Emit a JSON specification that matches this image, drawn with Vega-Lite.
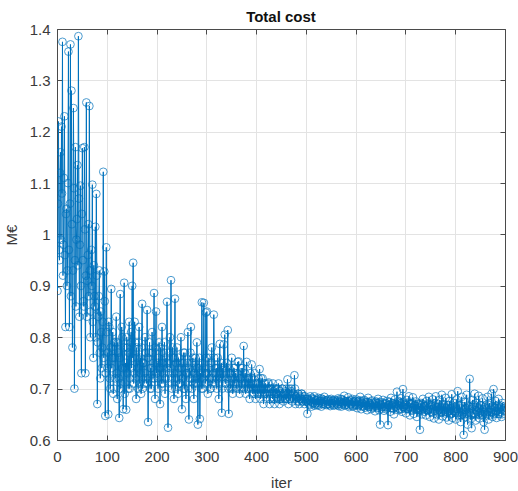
{
"$schema": "https://vega.github.io/schema/vega-lite/v6.json",
"width": 448, "height": 411,
"autosize": "none",
"padding": {"left": 57, "top": 29, "right": 13, "bottom": 51},
"background": "white",
"config": {
  "font": "Liberation Sans",
  "view": {"stroke": "#4a4a4a", "strokeWidth": 1},
  "axis": {"domainColor": "#4a4a4a", "tickColor": "#4a4a4a", "labelColor": "#3a3a3a", "titleColor": "#3a3a3a", "labelFontSize": 15, "titleFontSize": 15, "titleFontWeight": "normal", "gridColor": "#e3e3e3", "gridWidth": 1, "labelFlush": false, "labelOverlap": false}
},
"title": {"text": "Total cost", "fontSize": 15, "fontWeight": "bold", "color": "#111111", "offset": -3, "font": "Liberation Sans"},
"data": {"values": [
{"iter":1,"cost":0.89},{"iter":3,"cost":1.22},{"iter":5,"cost":0.95},{"iter":7,"cost":1.16},{"iter":9,"cost":1.21},{"iter":11,"cost":1.375},{"iter":13,"cost":0.98},{"iter":15,"cost":1.23},{"iter":17,"cost":0.82},{"iter":19,"cost":1.05},
{"iter":21,"cost":0.93},{"iter":23,"cost":1.356},{"iter":25,"cost":0.82},{"iter":27,"cost":1.37},{"iter":29,"cost":1.28},{"iter":31,"cost":0.78},{"iter":33,"cost":1.246},{"iter":35,"cost":0.70},{"iter":37,"cost":1.17},{"iter":39,"cost":0.99},
{"iter":41,"cost":1.135},{"iter":43,"cost":1.386},{"iter":45,"cost":0.84},{"iter":47,"cost":1.095},{"iter":49,"cost":0.73},{"iter":51,"cost":1.168},{"iter":53,"cost":0.87},{"iter":55,"cost":1.17},{"iter":57,"cost":0.73},{"iter":59,"cost":1.257},
{"iter":61,"cost":0.91},{"iter":63,"cost":1.02},{"iter":65,"cost":1.25},{"iter":67,"cost":0.80},{"iter":69,"cost":0.97},{"iter":71,"cost":1.097},{"iter":73,"cost":0.76},{"iter":75,"cost":0.88},{"iter":77,"cost":1.015},{"iter":79,"cost":1.079},
{"iter":81,"cost":0.67},{"iter":83,"cost":0.84},{"iter":85,"cost":0.93},{"iter":87,"cost":0.72},{"iter":89,"cost":0.81},{"iter":91,"cost":0.78},{"iter":93,"cost":1.122},{"iter":95,"cost":0.928},{"iter":97,"cost":0.647},{"iter":99,"cost":0.975},
{"iter":101,"cost":0.74},{"iter":103,"cost":0.65},{"iter":105,"cost":0.82},{"iter":107,"cost":0.70},{"iter":109,"cost":0.894},{"iter":111,"cost":0.76},{"iter":113,"cost":0.69},{"iter":115,"cost":0.79},{"iter":117,"cost":0.72},{"iter":119,"cost":0.84},
{"iter":121,"cost":0.68},{"iter":123,"cost":0.77},{"iter":125,"cost":0.643},{"iter":127,"cost":0.884},{"iter":129,"cost":0.71},{"iter":131,"cost":0.80},{"iter":133,"cost":0.66},{"iter":135,"cost":0.906},{"iter":137,"cost":0.74},{"iter":139,"cost":0.659},
{"iter":141,"cost":0.78},{"iter":143,"cost":0.70},{"iter":145,"cost":0.83},{"iter":147,"cost":0.72},{"iter":149,"cost":0.81},{"iter":151,"cost":0.90},{"iter":153,"cost":0.945},{"iter":155,"cost":0.73},{"iter":157,"cost":0.79},{"iter":159,"cost":0.68},
{"iter":161,"cost":0.76},{"iter":163,"cost":0.70},{"iter":165,"cost":0.82},{"iter":167,"cost":0.73},{"iter":169,"cost":0.69},{"iter":171,"cost":0.865},{"iter":173,"cost":0.75},{"iter":175,"cost":0.71},{"iter":177,"cost":0.80},{"iter":179,"cost":0.72},
{"iter":181,"cost":0.853},{"iter":183,"cost":0.635},{"iter":185,"cost":0.77},{"iter":187,"cost":0.70},{"iter":189,"cost":0.74},{"iter":191,"cost":0.81},{"iter":193,"cost":0.72},{"iter":195,"cost":0.886},{"iter":197,"cost":0.68},{"iter":199,"cost":0.85},
{"iter":201,"cost":0.75},{"iter":203,"cost":0.70},{"iter":205,"cost":0.79},{"iter":207,"cost":0.67},{"iter":209,"cost":0.74},{"iter":211,"cost":0.82},{"iter":213,"cost":0.71},{"iter":215,"cost":0.77},{"iter":217,"cost":0.69},{"iter":219,"cost":0.76},
{"iter":221,"cost":0.869},{"iter":223,"cost":0.624},{"iter":225,"cost":0.73},{"iter":227,"cost":0.80},{"iter":229,"cost":0.911},{"iter":231,"cost":0.70},{"iter":233,"cost":0.76},{"iter":235,"cost":0.68},{"iter":237,"cost":0.875},{"iter":239,"cost":0.72},
{"iter":241,"cost":0.78},{"iter":243,"cost":0.69},{"iter":245,"cost":0.74},{"iter":247,"cost":0.71},{"iter":249,"cost":0.80},{"iter":251,"cost":0.66},{"iter":253,"cost":0.75},{"iter":255,"cost":0.70},{"iter":257,"cost":0.77},{"iter":259,"cost":0.68},
{"iter":261,"cost":0.73},{"iter":263,"cost":0.81},{"iter":265,"cost":0.64},{"iter":267,"cost":0.72},{"iter":269,"cost":0.82},{"iter":271,"cost":0.70},{"iter":273,"cost":0.76},{"iter":275,"cost":0.68},{"iter":277,"cost":0.74},{"iter":279,"cost":0.71},
{"iter":281,"cost":0.79},{"iter":283,"cost":0.63},{"iter":285,"cost":0.74},{"iter":287,"cost":0.641},{"iter":289,"cost":0.72},{"iter":291,"cost":0.868},{"iter":293,"cost":0.70},{"iter":295,"cost":0.867},{"iter":297,"cost":0.73},{"iter":299,"cost":0.848},
{"iter":301,"cost":0.85},{"iter":303,"cost":0.69},{"iter":305,"cost":0.76},{"iter":307,"cost":0.72},{"iter":309,"cost":0.70},{"iter":311,"cost":0.78},{"iter":313,"cost":0.71},{"iter":315,"cost":0.844},{"iter":317,"cost":0.74},{"iter":319,"cost":0.73},
{"iter":321,"cost":0.70},{"iter":323,"cost":0.76},{"iter":325,"cost":0.68},{"iter":327,"cost":0.787},{"iter":329,"cost":0.72},{"iter":331,"cost":0.653},{"iter":333,"cost":0.74},{"iter":335,"cost":0.786},{"iter":337,"cost":0.805},{"iter":339,"cost":0.71},
{"iter":341,"cost":0.75},{"iter":343,"cost":0.814},{"iter":345,"cost":0.651},{"iter":347,"cost":0.73},{"iter":349,"cost":0.70},{"iter":351,"cost":0.76},{"iter":353,"cost":0.69},{"iter":355,"cost":0.74},{"iter":357,"cost":0.71},{"iter":359,"cost":0.73},
{"iter":361,"cost":0.70},{"iter":363,"cost":0.752},{"iter":365,"cost":0.753},{"iter":367,"cost":0.69},{"iter":369,"cost":0.72},{"iter":371,"cost":0.70},{"iter":373,"cost":0.74},{"iter":375,"cost":0.783},{"iter":377,"cost":0.71},{"iter":379,"cost":0.69},
{"iter":381,"cost":0.752},{"iter":383,"cost":0.70},{"iter":385,"cost":0.72},{"iter":387,"cost":0.68},{"iter":389,"cost":0.71},{"iter":391,"cost":0.747},{"iter":393,"cost":0.69},{"iter":395,"cost":0.70},{"iter":397,"cost":0.73},{"iter":399,"cost":0.68},
{"iter":401,"cost":0.71},{"iter":403,"cost":0.69},{"iter":405,"cost":0.72},{"iter":407,"cost":0.738},{"iter":409,"cost":0.68},{"iter":411,"cost":0.70},{"iter":413,"cost":0.72},{"iter":415,"cost":0.67},{"iter":417,"cost":0.69},{"iter":419,"cost":0.71},
{"iter":421,"cost":0.68},{"iter":423,"cost":0.70},{"iter":425,"cost":0.712},{"iter":427,"cost":0.67},{"iter":429,"cost":0.69},{"iter":431,"cost":0.70},{"iter":433,"cost":0.68},{"iter":435,"cost":0.695},{"iter":437,"cost":0.67},{"iter":439,"cost":0.69},
{"iter":441,"cost":0.70},{"iter":443,"cost":0.68},{"iter":445,"cost":0.71},{"iter":447,"cost":0.67},{"iter":449,"cost":0.69},{"iter":451,"cost":0.68},{"iter":453,"cost":0.70},{"iter":455,"cost":0.675},{"iter":457,"cost":0.69},{"iter":459,"cost":0.68},
{"iter":461,"cost":0.70},{"iter":463,"cost":0.718},{"iter":465,"cost":0.67},{"iter":467,"cost":0.69},{"iter":469,"cost":0.68},{"iter":471,"cost":0.70},{"iter":473,"cost":0.675},{"iter":475,"cost":0.69},{"iter":477,"cost":0.726},{"iter":479,"cost":0.67},
{"iter":481,"cost":0.685},{"iter":483,"cost":0.675},{"iter":485,"cost":0.69},{"iter":487,"cost":0.67},{"iter":489,"cost":0.68},{"iter":491,"cost":0.69},{"iter":493,"cost":0.675},{"iter":495,"cost":0.685},{"iter":497,"cost":0.67},{"iter":499,"cost":0.68},
{"iter":501,"cost":0.675},{"iter":503,"cost":0.651},{"iter":505,"cost":0.68},{"iter":507,"cost":0.67},{"iter":509,"cost":0.685},{"iter":511,"cost":0.665},{"iter":513,"cost":0.68},{"iter":515,"cost":0.672},{"iter":517,"cost":0.685},{"iter":519,"cost":0.67},
{"iter":521,"cost":0.678},{"iter":523,"cost":0.668},{"iter":525,"cost":0.682},{"iter":527,"cost":0.672},{"iter":529,"cost":0.676},{"iter":531,"cost":0.665},{"iter":533,"cost":0.68},{"iter":535,"cost":0.67},{"iter":537,"cost":0.684},{"iter":539,"cost":0.673},
{"iter":541,"cost":0.668},{"iter":543,"cost":0.678},{"iter":545,"cost":0.67},{"iter":547,"cost":0.675},{"iter":549,"cost":0.666},{"iter":551,"cost":0.68},{"iter":553,"cost":0.672},{"iter":555,"cost":0.677},{"iter":557,"cost":0.668},{"iter":559,"cost":0.674},
{"iter":561,"cost":0.676},{"iter":563,"cost":0.668},{"iter":565,"cost":0.681},{"iter":567,"cost":0.67},{"iter":569,"cost":0.674},{"iter":571,"cost":0.665},{"iter":573,"cost":0.679},{"iter":575,"cost":0.671},{"iter":577,"cost":0.686},{"iter":579,"cost":0.668},
{"iter":581,"cost":0.675},{"iter":583,"cost":0.669},{"iter":585,"cost":0.683},{"iter":587,"cost":0.664},{"iter":589,"cost":0.677},{"iter":591,"cost":0.67},{"iter":593,"cost":0.68},{"iter":595,"cost":0.665},{"iter":597,"cost":0.674},{"iter":599,"cost":0.668},
{"iter":601,"cost":0.679},{"iter":603,"cost":0.662},{"iter":605,"cost":0.675},{"iter":607,"cost":0.668},{"iter":609,"cost":0.684},{"iter":611,"cost":0.66},{"iter":613,"cost":0.672},{"iter":615,"cost":0.666},{"iter":617,"cost":0.678},{"iter":619,"cost":0.663},
{"iter":621,"cost":0.674},{"iter":623,"cost":0.658},{"iter":625,"cost":0.682},{"iter":627,"cost":0.665},{"iter":629,"cost":0.671},{"iter":631,"cost":0.66},{"iter":633,"cost":0.677},{"iter":635,"cost":0.664},{"iter":637,"cost":0.669},{"iter":639,"cost":0.656},
{"iter":641,"cost":0.675},{"iter":643,"cost":0.662},{"iter":645,"cost":0.68},{"iter":647,"cost":0.658},{"iter":649,"cost":0.63},{"iter":651,"cost":0.67},{"iter":653,"cost":0.664},{"iter":655,"cost":0.678},{"iter":657,"cost":0.657},{"iter":659,"cost":0.672},
{"iter":661,"cost":0.66},{"iter":663,"cost":0.676},{"iter":665,"cost":0.629},{"iter":667,"cost":0.668},{"iter":669,"cost":0.655},{"iter":671,"cost":0.682},{"iter":673,"cost":0.662},{"iter":675,"cost":0.671},{"iter":677,"cost":0.65},{"iter":679,"cost":0.679},
{"iter":681,"cost":0.665},{"iter":683,"cost":0.694},{"iter":685,"cost":0.658},{"iter":687,"cost":0.673},{"iter":689,"cost":0.66},{"iter":691,"cost":0.681},{"iter":693,"cost":0.655},{"iter":695,"cost":0.699},{"iter":697,"cost":0.664},{"iter":699,"cost":0.67},
{"iter":701,"cost":0.652},{"iter":703,"cost":0.678},{"iter":705,"cost":0.66},{"iter":707,"cost":0.685},{"iter":709,"cost":0.648},{"iter":711,"cost":0.671},{"iter":713,"cost":0.657},{"iter":715,"cost":0.683},{"iter":717,"cost":0.651},{"iter":719,"cost":0.668},
{"iter":721,"cost":0.675},{"iter":723,"cost":0.645},{"iter":725,"cost":0.67},{"iter":727,"cost":0.658},{"iter":729,"cost":0.62},{"iter":731,"cost":0.672},{"iter":733,"cost":0.65},{"iter":735,"cost":0.68},{"iter":737,"cost":0.655},{"iter":739,"cost":0.666},
{"iter":741,"cost":0.648},{"iter":743,"cost":0.676},{"iter":745,"cost":0.658},{"iter":747,"cost":0.684},{"iter":749,"cost":0.645},{"iter":751,"cost":0.668},{"iter":753,"cost":0.653},{"iter":755,"cost":0.679},{"iter":757,"cost":0.642},{"iter":759,"cost":0.671},
{"iter":761,"cost":0.685},{"iter":763,"cost":0.65},{"iter":765,"cost":0.664},{"iter":767,"cost":0.64},{"iter":769,"cost":0.678},{"iter":771,"cost":0.655},{"iter":773,"cost":0.688},{"iter":775,"cost":0.646},{"iter":777,"cost":0.67},{"iter":779,"cost":0.652},
{"iter":781,"cost":0.682},{"iter":783,"cost":0.644},{"iter":785,"cost":0.667},{"iter":787,"cost":0.638},{"iter":789,"cost":0.676},{"iter":791,"cost":0.65},{"iter":793,"cost":0.689},{"iter":795,"cost":0.643},{"iter":797,"cost":0.672},{"iter":799,"cost":0.656},
{"iter":801,"cost":0.64},{"iter":803,"cost":0.679},{"iter":805,"cost":0.695},{"iter":807,"cost":0.648},{"iter":809,"cost":0.668},{"iter":811,"cost":0.635},{"iter":813,"cost":0.684},{"iter":815,"cost":0.65},{"iter":817,"cost":0.61},{"iter":819,"cost":0.674},
{"iter":821,"cost":0.645},{"iter":823,"cost":0.688},{"iter":825,"cost":0.63},{"iter":827,"cost":0.665},{"iter":829,"cost":0.719},{"iter":831,"cost":0.64},{"iter":833,"cost":0.623},{"iter":835,"cost":0.678},{"iter":837,"cost":0.65},{"iter":839,"cost":0.69},
{"iter":841,"cost":0.638},{"iter":843,"cost":0.672},{"iter":845,"cost":0.655},{"iter":847,"cost":0.686},{"iter":849,"cost":0.642},{"iter":851,"cost":0.668},{"iter":853,"cost":0.65},{"iter":855,"cost":0.681},{"iter":857,"cost":0.635},{"iter":859,"cost":0.62},
{"iter":861,"cost":0.667},{"iter":863,"cost":0.648},{"iter":865,"cost":0.684},{"iter":867,"cost":0.64},{"iter":869,"cost":0.672},{"iter":871,"cost":0.655},{"iter":873,"cost":0.69},{"iter":875,"cost":0.645},{"iter":877,"cost":0.699},{"iter":879,"cost":0.652},
{"iter":881,"cost":0.676},{"iter":883,"cost":0.643},{"iter":885,"cost":0.668},{"iter":887,"cost":0.68},{"iter":889,"cost":0.65},{"iter":891,"cost":0.664},{"iter":893,"cost":0.645},{"iter":895,"cost":0.672},{"iter":897,"cost":0.658},{"iter":899,"cost":0.666},
{"iter":2,"cost":1.06},{"iter":4,"cost":0.97},{"iter":6,"cost":1.12},{"iter":8,"cost":0.99},{"iter":10,"cost":1.08},{"iter":12,"cost":0.92},{"iter":14,"cost":1.11},{"iter":16,"cost":0.96},{"iter":18,"cost":1.04},{"iter":20,"cost":0.90},
{"iter":22,"cost":1.10},{"iter":24,"cost":0.97},{"iter":26,"cost":1.06},{"iter":28,"cost":0.88},{"iter":30,"cost":1.02},{"iter":32,"cost":0.93},{"iter":34,"cost":1.09},{"iter":36,"cost":0.95},{"iter":38,"cost":0.86},{"iter":40,"cost":1.03},
{"iter":42,"cost":0.94},{"iter":44,"cost":1.07},{"iter":46,"cost":0.98},{"iter":48,"cost":0.90},{"iter":50,"cost":1.04},{"iter":52,"cost":0.95},{"iter":54,"cost":0.86},{"iter":56,"cost":1.01},{"iter":58,"cost":0.92},{"iter":60,"cost":0.84},
{"iter":62,"cost":0.96},{"iter":64,"cost":0.88},{"iter":66,"cost":0.93},{"iter":68,"cost":0.85},{"iter":70,"cost":0.90},{"iter":72,"cost":0.83},{"iter":74,"cost":0.94},{"iter":76,"cost":0.86},{"iter":78,"cost":0.80},{"iter":80,"cost":0.92},
{"iter":82,"cost":0.79},{"iter":84,"cost":0.88},{"iter":86,"cost":0.77},{"iter":88,"cost":0.85},{"iter":90,"cost":0.74},{"iter":92,"cost":0.83},{"iter":94,"cost":0.76},{"iter":96,"cost":0.87},{"iter":98,"cost":0.73},{"iter":100,"cost":0.81},
{"iter":102,"cost":0.77},{"iter":104,"cost":0.83},{"iter":106,"cost":0.72},{"iter":108,"cost":0.78},{"iter":110,"cost":0.74},{"iter":112,"cost":0.81},{"iter":114,"cost":0.70},{"iter":116,"cost":0.76},{"iter":118,"cost":0.79},{"iter":120,"cost":0.73},
{"iter":122,"cost":0.79},{"iter":124,"cost":0.72},{"iter":126,"cost":0.76},{"iter":128,"cost":0.70},{"iter":130,"cost":0.82},{"iter":132,"cost":0.74},{"iter":134,"cost":0.78},{"iter":136,"cost":0.69},{"iter":138,"cost":0.75},{"iter":140,"cost":0.80},
{"iter":142,"cost":0.73},{"iter":144,"cost":0.77},{"iter":146,"cost":0.70},{"iter":148,"cost":0.79},{"iter":150,"cost":0.74},{"iter":152,"cost":0.76},{"iter":154,"cost":0.71},{"iter":156,"cost":0.83},{"iter":158,"cost":0.72},{"iter":160,"cost":0.78},
{"iter":162,"cost":0.74},{"iter":164,"cost":0.79},{"iter":166,"cost":0.71},{"iter":168,"cost":0.76},{"iter":170,"cost":0.78},{"iter":172,"cost":0.70},{"iter":174,"cost":0.75},{"iter":176,"cost":0.73},{"iter":178,"cost":0.77},{"iter":180,"cost":0.71},
{"iter":182,"cost":0.76},{"iter":184,"cost":0.72},{"iter":186,"cost":0.79},{"iter":188,"cost":0.74},{"iter":190,"cost":0.70},{"iter":192,"cost":0.77},{"iter":194,"cost":0.75},{"iter":196,"cost":0.72},{"iter":198,"cost":0.78},{"iter":200,"cost":0.73},
{"iter":202,"cost":0.72},{"iter":204,"cost":0.76},{"iter":206,"cost":0.74},{"iter":208,"cost":0.78},{"iter":210,"cost":0.71},{"iter":212,"cost":0.75},{"iter":214,"cost":0.73},{"iter":216,"cost":0.79},{"iter":218,"cost":0.72},{"iter":220,"cost":0.74},
{"iter":222,"cost":0.75},{"iter":224,"cost":0.71},{"iter":226,"cost":0.77},{"iter":228,"cost":0.74},{"iter":230,"cost":0.72},{"iter":232,"cost":0.78},{"iter":234,"cost":0.73},{"iter":236,"cost":0.76},{"iter":238,"cost":0.70},{"iter":240,"cost":0.75},
{"iter":242,"cost":0.73},{"iter":244,"cost":0.76},{"iter":246,"cost":0.71},{"iter":248,"cost":0.75},{"iter":250,"cost":0.74},{"iter":252,"cost":0.72},{"iter":254,"cost":0.77},{"iter":256,"cost":0.70},{"iter":258,"cost":0.74},{"iter":260,"cost":0.73},
{"iter":262,"cost":0.75},{"iter":264,"cost":0.70},{"iter":266,"cost":0.74},{"iter":268,"cost":0.77},{"iter":270,"cost":0.72},{"iter":272,"cost":0.75},{"iter":274,"cost":0.71},{"iter":276,"cost":0.73},{"iter":278,"cost":0.76},{"iter":280,"cost":0.72},
{"iter":282,"cost":0.74},{"iter":284,"cost":0.71},{"iter":286,"cost":0.76},{"iter":288,"cost":0.73},{"iter":290,"cost":0.70},{"iter":292,"cost":0.75},{"iter":294,"cost":0.72},{"iter":296,"cost":0.74},{"iter":298,"cost":0.71},{"iter":300,"cost":0.76},
{"iter":302,"cost":0.73},{"iter":304,"cost":0.71},{"iter":306,"cost":0.74},{"iter":308,"cost":0.70},{"iter":310,"cost":0.75},{"iter":312,"cost":0.72},{"iter":314,"cost":0.73},{"iter":316,"cost":0.76},{"iter":318,"cost":0.71},{"iter":320,"cost":0.74},
{"iter":322,"cost":0.72},{"iter":324,"cost":0.74},{"iter":326,"cost":0.71},{"iter":328,"cost":0.73},{"iter":330,"cost":0.75},{"iter":332,"cost":0.70},{"iter":334,"cost":0.72},{"iter":336,"cost":0.74},{"iter":338,"cost":0.71},{"iter":340,"cost":0.73},
{"iter":342,"cost":0.72},{"iter":344,"cost":0.70},{"iter":346,"cost":0.74},{"iter":348,"cost":0.71},{"iter":350,"cost":0.73},{"iter":352,"cost":0.72},{"iter":354,"cost":0.70},{"iter":356,"cost":0.74},{"iter":358,"cost":0.72},{"iter":360,"cost":0.71},
{"iter":362,"cost":0.73},{"iter":364,"cost":0.71},{"iter":366,"cost":0.70},{"iter":368,"cost":0.72},{"iter":370,"cost":0.74},{"iter":372,"cost":0.71},{"iter":374,"cost":0.72},{"iter":376,"cost":0.70},{"iter":378,"cost":0.73},{"iter":380,"cost":0.71},
{"iter":382,"cost":0.72},{"iter":384,"cost":0.70},{"iter":386,"cost":0.71},{"iter":388,"cost":0.73},{"iter":390,"cost":0.70},{"iter":392,"cost":0.72},{"iter":394,"cost":0.71},{"iter":396,"cost":0.69},{"iter":398,"cost":0.71},{"iter":400,"cost":0.70},
{"iter":402,"cost":0.70},{"iter":404,"cost":0.71},{"iter":406,"cost":0.69},{"iter":408,"cost":0.70},{"iter":410,"cost":0.72},{"iter":412,"cost":0.69},{"iter":414,"cost":0.70},{"iter":416,"cost":0.71},{"iter":418,"cost":0.69},{"iter":420,"cost":0.70},
{"iter":422,"cost":0.69},{"iter":424,"cost":0.71},{"iter":426,"cost":0.70},{"iter":428,"cost":0.68},{"iter":430,"cost":0.70},{"iter":432,"cost":0.69},{"iter":434,"cost":0.71},{"iter":436,"cost":0.68},{"iter":438,"cost":0.70},{"iter":440,"cost":0.69},
{"iter":442,"cost":0.69},{"iter":444,"cost":0.70},{"iter":446,"cost":0.68},{"iter":448,"cost":0.695},{"iter":450,"cost":0.68},{"iter":452,"cost":0.70},{"iter":454,"cost":0.685},{"iter":456,"cost":0.69},{"iter":458,"cost":0.68},{"iter":460,"cost":0.695},
{"iter":462,"cost":0.68},{"iter":464,"cost":0.69},{"iter":466,"cost":0.70},{"iter":468,"cost":0.68},{"iter":470,"cost":0.695},{"iter":472,"cost":0.685},{"iter":474,"cost":0.69},{"iter":476,"cost":0.68},{"iter":478,"cost":0.70},{"iter":480,"cost":0.685},
{"iter":482,"cost":0.68},{"iter":484,"cost":0.69},{"iter":486,"cost":0.675},{"iter":488,"cost":0.685},{"iter":490,"cost":0.68},{"iter":492,"cost":0.69},{"iter":494,"cost":0.675},{"iter":496,"cost":0.68},{"iter":498,"cost":0.685},{"iter":500,"cost":0.675},
{"iter":502,"cost":0.68},{"iter":504,"cost":0.673},{"iter":506,"cost":0.678},{"iter":508,"cost":0.668},{"iter":510,"cost":0.676},{"iter":512,"cost":0.682},{"iter":514,"cost":0.671},{"iter":516,"cost":0.679},{"iter":518,"cost":0.667},{"iter":520,"cost":0.677},
{"iter":522,"cost":0.672},{"iter":524,"cost":0.679},{"iter":526,"cost":0.667},{"iter":528,"cost":0.676},{"iter":530,"cost":0.681},{"iter":532,"cost":0.67},{"iter":534,"cost":0.675},{"iter":536,"cost":0.678},{"iter":538,"cost":0.669},{"iter":540,"cost":0.677},
{"iter":542,"cost":0.675},{"iter":544,"cost":0.67},{"iter":546,"cost":0.679},{"iter":548,"cost":0.668},{"iter":550,"cost":0.677},{"iter":552,"cost":0.671},{"iter":554,"cost":0.676},{"iter":556,"cost":0.667},{"iter":558,"cost":0.678},{"iter":560,"cost":0.672},
{"iter":562,"cost":0.67},{"iter":564,"cost":0.677},{"iter":566,"cost":0.666},{"iter":568,"cost":0.675},{"iter":570,"cost":0.68},{"iter":572,"cost":0.669},{"iter":574,"cost":0.673},{"iter":576,"cost":0.677},{"iter":578,"cost":0.667},{"iter":580,"cost":0.674},
{"iter":582,"cost":0.672},{"iter":584,"cost":0.676},{"iter":586,"cost":0.667},{"iter":588,"cost":0.674},{"iter":590,"cost":0.669},{"iter":592,"cost":0.677},{"iter":594,"cost":0.666},{"iter":596,"cost":0.675},{"iter":598,"cost":0.671},{"iter":600,"cost":0.676},
{"iter":602,"cost":0.668},{"iter":604,"cost":0.674},{"iter":606,"cost":0.666},{"iter":608,"cost":0.677},{"iter":610,"cost":0.67},{"iter":612,"cost":0.673},{"iter":614,"cost":0.665},{"iter":616,"cost":0.676},{"iter":618,"cost":0.669},{"iter":620,"cost":0.672},
{"iter":622,"cost":0.667},{"iter":624,"cost":0.674},{"iter":626,"cost":0.664},{"iter":628,"cost":0.672},{"iter":630,"cost":0.668},{"iter":632,"cost":0.675},{"iter":634,"cost":0.663},{"iter":636,"cost":0.671},{"iter":638,"cost":0.666},{"iter":640,"cost":0.673},
{"iter":642,"cost":0.666},{"iter":644,"cost":0.672},{"iter":646,"cost":0.663},{"iter":648,"cost":0.674},{"iter":650,"cost":0.668},{"iter":652,"cost":0.661},{"iter":654,"cost":0.673},{"iter":656,"cost":0.665},{"iter":658,"cost":0.67},{"iter":660,"cost":0.664},
{"iter":662,"cost":0.671},{"iter":664,"cost":0.663},{"iter":666,"cost":0.668},{"iter":668,"cost":0.674},{"iter":670,"cost":0.662},{"iter":672,"cost":0.667},{"iter":674,"cost":0.672},{"iter":676,"cost":0.661},{"iter":678,"cost":0.669},{"iter":680,"cost":0.665},
{"iter":682,"cost":0.67},{"iter":684,"cost":0.662},{"iter":686,"cost":0.676},{"iter":688,"cost":0.666},{"iter":690,"cost":0.671},{"iter":692,"cost":0.66},{"iter":694,"cost":0.674},{"iter":696,"cost":0.665},{"iter":698,"cost":0.668},{"iter":700,"cost":0.661},
{"iter":702,"cost":0.668},{"iter":704,"cost":0.661},{"iter":706,"cost":0.673},{"iter":708,"cost":0.664},{"iter":710,"cost":0.67},{"iter":712,"cost":0.659},{"iter":714,"cost":0.672},{"iter":716,"cost":0.663},{"iter":718,"cost":0.667},{"iter":720,"cost":0.66},
{"iter":722,"cost":0.666},{"iter":724,"cost":0.66},{"iter":726,"cost":0.671},{"iter":728,"cost":0.662},{"iter":730,"cost":0.668},{"iter":732,"cost":0.657},{"iter":734,"cost":0.67},{"iter":736,"cost":0.661},{"iter":738,"cost":0.665},{"iter":740,"cost":0.659},
{"iter":742,"cost":0.667},{"iter":744,"cost":0.658},{"iter":746,"cost":0.671},{"iter":748,"cost":0.66},{"iter":750,"cost":0.664},{"iter":752,"cost":0.655},{"iter":754,"cost":0.669},{"iter":756,"cost":0.66},{"iter":758,"cost":0.666},{"iter":760,"cost":0.657},
{"iter":762,"cost":0.664},{"iter":764,"cost":0.656},{"iter":766,"cost":0.67},{"iter":768,"cost":0.659},{"iter":770,"cost":0.662},{"iter":772,"cost":0.653},{"iter":774,"cost":0.668},{"iter":776,"cost":0.658},{"iter":778,"cost":0.664},{"iter":780,"cost":0.655},
{"iter":782,"cost":0.662},{"iter":784,"cost":0.654},{"iter":786,"cost":0.668},{"iter":788,"cost":0.657},{"iter":790,"cost":0.661},{"iter":792,"cost":0.652},{"iter":794,"cost":0.667},{"iter":796,"cost":0.656},{"iter":798,"cost":0.663},{"iter":800,"cost":0.653},
{"iter":802,"cost":0.66},{"iter":804,"cost":0.652},{"iter":806,"cost":0.668},{"iter":808,"cost":0.655},{"iter":810,"cost":0.662},{"iter":812,"cost":0.648},{"iter":814,"cost":0.666},{"iter":816,"cost":0.654},{"iter":818,"cost":0.659},{"iter":820,"cost":0.65},
{"iter":822,"cost":0.662},{"iter":824,"cost":0.651},{"iter":826,"cost":0.667},{"iter":828,"cost":0.654},{"iter":830,"cost":0.66},{"iter":832,"cost":0.648},{"iter":834,"cost":0.665},{"iter":836,"cost":0.653},{"iter":838,"cost":0.669},{"iter":840,"cost":0.65},
{"iter":842,"cost":0.658},{"iter":844,"cost":0.665},{"iter":846,"cost":0.649},{"iter":848,"cost":0.662},{"iter":850,"cost":0.653},{"iter":852,"cost":0.667},{"iter":854,"cost":0.648},{"iter":856,"cost":0.66},{"iter":858,"cost":0.654},{"iter":860,"cost":0.664},
{"iter":862,"cost":0.651},{"iter":864,"cost":0.662},{"iter":866,"cost":0.655},{"iter":868,"cost":0.668},{"iter":870,"cost":0.648},{"iter":872,"cost":0.661},{"iter":874,"cost":0.654},{"iter":876,"cost":0.666},{"iter":878,"cost":0.65},{"iter":880,"cost":0.663},
{"iter":882,"cost":0.656},{"iter":884,"cost":0.665},{"iter":886,"cost":0.651},{"iter":888,"cost":0.662},{"iter":890,"cost":0.655},{"iter":892,"cost":0.667},{"iter":894,"cost":0.65},{"iter":896,"cost":0.661},{"iter":898,"cost":0.656},{"iter":900,"cost":0.663}
]},
"encoding": {
  "x": {"field": "iter", "type": "quantitative", "scale": {"domain": [0, 900], "nice": false, "zero": false}},
  "y": {"field": "cost", "type": "quantitative", "scale": {"domain": [0.6, 1.4], "nice": false, "zero": false}}
},
"layer": [
  {"mark": {"type": "line", "color": "#0072BD", "strokeWidth": 1, "clip": true},
   "encoding": {
     "x": {"field": "iter", "type": "quantitative", "title": "iter", "axis": {"orient": "bottom", "values": [0,100,200,300,400,500,600,700,800,900], "grid": true, "tickSize": -5, "labelPadding": 14, "titlePadding": 11}},
     "y": {"field": "cost", "type": "quantitative", "title": "M€", "axis": {"orient": "left", "values": [0.6,0.7,0.8,0.9,1,1.1,1.2,1.3,1.4], "format": "~g", "grid": true, "tickSize": -5, "labelPadding": 12, "titlePadding": 10}}
   }},
  {"mark": {"type": "point", "shape": "circle", "filled": false, "color": "#0072BD", "strokeWidth": 1, "size": 60, "clip": true},
   "encoding": {
     "x": {"field": "iter", "type": "quantitative", "axis": {"orient": "top", "values": [0,100,200,300,400,500,600,700,800,900], "grid": false, "labels": false, "title": null, "tickSize": -5, "domain": true}},
     "y": {"field": "cost", "type": "quantitative", "axis": {"orient": "right", "values": [0.6,0.7,0.8,0.9,1,1.1,1.2,1.3,1.4], "grid": false, "labels": false, "title": null, "tickSize": -5, "domain": true}}
   }}
],
"resolve": {"axis": {"x": "independent", "y": "independent"}}
}
